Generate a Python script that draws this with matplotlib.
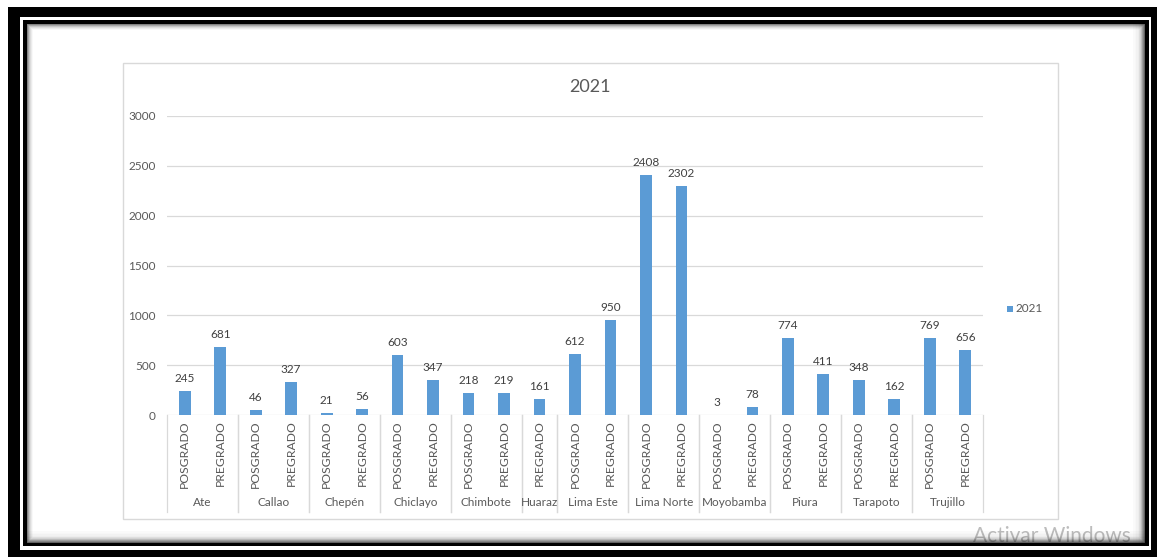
import matplotlib
matplotlib.use("Agg")
import matplotlib.pyplot as plt
from matplotlib.patches import Rectangle
from matplotlib.lines import Line2D

# data
ciudades = ['Ate', 'Callao', 'Chepén', 'Chiclayo', 'Chimbote', 'Huaraz',
            'Lima Este', 'Lima Norte', 'Moyobamba', 'Piura', 'Tarapoto', 'Trujillo']
posgrado = [245, 46, 21, 603, 218, None, 612, 2408, 3, 774, 348, 769]
pregrado = [681, 327, 56, 347, 219, 161, 950, 2302, 78, 411, 162, 656]
yticks = [0, 500, 1000, 1500, 2000, 2500, 3000]

W, H = 1160, 557
BLUE = '#5B9BD5'
GRID = '#D9D9D9'
TXT = '#595959'
plt.rcParams['font.family'] = ['Lato', 'DejaVu Sans']

fig = plt.figure(figsize=(W / 100, H / 100), dpi=100)

# background layer in pixel coords (frame of screenshot)
bg = fig.add_axes([0, 0, 1, 1])
bg.set_xlim(0, W)
bg.set_ylim(H, 0)
bg.axis('off')

def px_rect(x0, y0, x1, y1, **kw):
    bg.add_patch(Rectangle((x0, y0), x1 - x0, y1 - y0, **kw))

px_rect(8, 7, 1157, 557, facecolor='black', edgecolor='none', zorder=0)
px_rect(20, 17, 1151, 550, facecolor='white', edgecolor='none', zorder=0.1)
px_rect(23, 20, 1149, 546, facecolor='black', edgecolor='none', zorder=0.2)
px_rect(27, 24, 1145, 543, facecolor='white', edgecolor='none', zorder=0.3)

# watermark, sits under the frame shadow
bg.text(973, 542, 'Activar Windows', fontsize=15, color='#BDBDBD',
        ha='left', va='baseline', zorder=0.35)

# soft inner shadow, a bit heavier at the bottom and right
for i, a in enumerate([0.4, 0.28, 0.18, 0.11, 0.06, 0.03]):
    px_rect(27 + i, 24 + i, 1145 - i, 543 - i, facecolor='none',
            edgecolor='black', alpha=a, lw=1.2, zorder=0.4)
for i, a in enumerate([0.25, 0.2, 0.15, 0.1, 0.07, 0.05, 0.03, 0.02]):
    px_rect(27, 543 - 1.5 * (i + 1), 1145, 543 - 1.5 * i, facecolor='black',
            edgecolor='none', alpha=a, zorder=0.41)
    px_rect(1145 - 1.5 * (i + 1), 24, 1145 - 1.5 * i, 543, facecolor='black',
            edgecolor='none', alpha=a, zorder=0.41)

# chart area border
px_rect(123, 63, 1058, 519, facecolor='white', edgecolor=GRID, lw=1, zorder=0.8)

# build flat categories
labels, values, groups = [], [], []
for c, po, pr in zip(ciudades, posgrado, pregrado):
    start = len(labels)
    if po is not None:
        labels.append('POSGRADO')
        values.append(po)
    if pr is not None:
        labels.append('PREGRADO')
        values.append(pr)
    groups.append((c, start, len(labels)))
n = len(labels)

x0, x1, y0, y1 = 167, 983, 415, 116
ax = fig.add_axes([x0 / W, 1 - y0 / H, (x1 - x0) / W, (y0 - y1) / H])
ax.set_xlim(0, n)
ax.set_ylim(0, 3000)
ax.patch.set_alpha(0)
for s in ax.spines.values():
    s.set_visible(False)
ax.set_yticks(yticks)
ax.tick_params(axis='y', length=0, pad=8, labelsize=8.5, labelcolor=TXT)
ax.set_xticks([])
ax.yaxis.grid(True, color=GRID, lw=0.9)
ax.set_axisbelow(True)

xs = [i + 0.5 for i in range(n)]
ax.bar(xs, values, width=0.33, color=BLUE, zorder=3)
for x, v in zip(xs, values):
    ax.annotate(str(v), (x, v), xytext=(0, 5), textcoords='offset points',
                ha='center', va='bottom', fontsize=8.5, color='#404040')

# multi-level category axis
tr = ax.get_xaxis_transform()
pxh = 1 / (y0 - y1)  # one pixel in axes fraction
for x, lab in zip(xs, labels):
    ax.text(x, -5 * pxh, lab, rotation=90, ha='center', va='top',
            fontsize=8.7, color=TXT, transform=tr, clip_on=False)
for c, a, b in groups:
    ax.text((a + b) / 2, -87 * pxh, c, ha='center', va='center',
            fontsize=8.5, color=TXT, transform=tr, clip_on=False)
    for xb in (a, b):
        ax.add_line(Line2D([xb, xb], [0, -97 * pxh], color=GRID, lw=0.9,
                           transform=tr, clip_on=False))

# title centred on the chart area
bg.text(590, 87, '2021', fontsize=13, color=TXT, ha='center', va='center', zorder=1)

# legend
bg.add_patch(Rectangle((1007, 306), 6, 6, facecolor=BLUE, edgecolor='none', zorder=1))
bg.text(1016, 309, '2021', fontsize=8.5, color=TXT, ha='left', va='center', zorder=1)

fig.savefig('out.png', dpi=100)
